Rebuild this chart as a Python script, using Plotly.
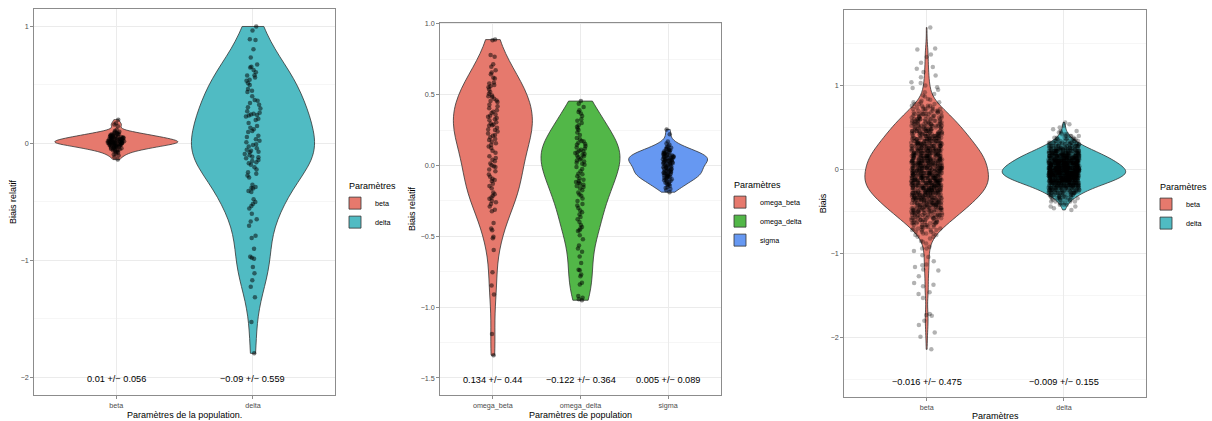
import numpy as np
import plotly.graph_objects as go

# ------------------------------------------------------------------ data
panel1_categories = ["beta", "delta"]
panel2_categories = ["omega_beta", "omega_delta", "sigma"]
panel3_categories = ["beta", "delta"]

beta1_values = [
    -0.138, -0.118, -0.103, -0.095, -0.086, -0.079, -0.072, -0.068, -0.063, -0.058,
    -0.055, -0.051, -0.049, -0.046, -0.044, -0.041, -0.038, -0.036, -0.033, -0.031,
    -0.029, -0.027, -0.025, -0.023, -0.021, -0.019, -0.018, -0.016, -0.014, -0.012,
    -0.011, -0.009, -0.008, -0.006, -0.005, -0.003, -0.002, 0.000, 0.001, 0.002,
    0.004, 0.005, 0.006, 0.007, 0.008, 0.009, 0.011, 0.012, 0.013, 0.014,
    0.016, 0.017, 0.018, 0.019, 0.020, 0.022, 0.023, 0.024, 0.026, 0.027,
    0.029, 0.031, 0.032, 0.033, 0.035, 0.036, 0.038, 0.039, 0.040, 0.042,
    0.044, 0.045, 0.047, 0.049, 0.051, 0.053, 0.055, 0.056, 0.058, 0.060,
    0.062, 0.064, 0.066, 0.068, 0.071, 0.073, 0.076, 0.079, 0.082, 0.085,
    0.088, 0.092, 0.096, 0.101, 0.107, 0.118, 0.148, 0.162, 0.172, 0.203,
]
delta1_values = [
    1.000, 0.966, 0.890, 0.885, 0.806, 0.735, 0.676, 0.656, 0.650, 0.628,
    0.608, 0.583, 0.580, 0.563, 0.544, 0.536, 0.515, 0.500, 0.465, 0.450,
    0.440, 0.403, 0.372, 0.366, 0.346, 0.332, 0.310, 0.299, 0.276, 0.262,
    0.255, 0.248, 0.243, 0.238, 0.230, 0.211, 0.200, 0.176, 0.150, 0.135,
    0.121, 0.107, 0.099, 0.065, 0.056, 0.037, 0.023, 0.010, -0.006, -0.014,
    -0.025, -0.040, -0.054, -0.062, -0.070, -0.076, -0.090, -0.100, -0.113, -0.118,
    -0.127, -0.141, -0.150, -0.160, -0.169, -0.183, -0.203, -0.222, -0.245, -0.259,
    -0.273, -0.290, -0.352, -0.372, -0.380, -0.386, -0.406, -0.414, -0.476, -0.500,
    -0.518, -0.535, -0.555, -0.600, -0.648, -0.668, -0.704, -0.789, -0.808, -0.901,
    -0.969, -0.977, -0.986, -1.056, -1.110, -1.169, -1.225, -1.315, -1.527, -1.794,
]
omega_beta2_values = [
    0.889, 0.884, 0.780, 0.768, 0.715, 0.698, 0.673, 0.657, 0.645, 0.620,
    0.615, 0.587, 0.580, 0.568, 0.560, 0.553, 0.536, 0.520, 0.506, 0.494,
    0.490, 0.483, 0.471, 0.460, 0.455, 0.448, 0.430, 0.418, 0.405, 0.390,
    0.380, 0.371, 0.360, 0.352, 0.345, 0.336, 0.327, 0.320, 0.305, 0.297,
    0.290, 0.285, 0.280, 0.267, 0.255, 0.250, 0.240, 0.227, 0.216, 0.210,
    0.200, 0.188, 0.181, 0.170, 0.158, 0.146, 0.135, 0.123, 0.104, 0.090,
    0.065, 0.053, 0.040, 0.030, 0.015, 0.002, -0.005, -0.010, -0.028, -0.040,
    -0.063, -0.080, -0.093, -0.102, -0.109, -0.128, -0.144, -0.160, -0.190, -0.202,
    -0.213, -0.225, -0.235, -0.248, -0.260, -0.271, -0.290, -0.313, -0.323, -0.406,
    -0.445, -0.457, -0.503, -0.513, -0.596, -0.754, -0.847, -0.910, -1.190, -1.339,
]
omega_delta2_values = [
    0.455, 0.436, 0.413, 0.390, 0.378, 0.368, 0.350, 0.327, 0.316, 0.300,
    0.285, 0.274, 0.262, 0.250, 0.234, 0.216, 0.195, 0.185, 0.174, 0.170,
    0.160, 0.152, 0.146, 0.138, 0.128, 0.120, 0.111, 0.105, 0.100, 0.094,
    0.088, 0.082, 0.077, 0.070, 0.065, 0.058, 0.049, 0.042, 0.035, 0.028,
    0.019, 0.012, 0.005, -0.010, -0.025, -0.040, -0.058, -0.062, -0.075, -0.090,
    -0.100, -0.109, -0.116, -0.122, -0.128, -0.135, -0.144, -0.152, -0.160, -0.174,
    -0.190, -0.205, -0.213, -0.232, -0.250, -0.271, -0.283, -0.300, -0.318, -0.329,
    -0.345, -0.364, -0.380, -0.399, -0.420, -0.434, -0.445, -0.457, -0.462, -0.492,
    -0.520, -0.564, -0.585, -0.608, -0.643, -0.689, -0.735, -0.740, -0.770, -0.782,
    -0.828, -0.840, -0.921, -0.933, -0.944, -0.951,
]
sigma2_values = [
    -0.188, -0.175, -0.166, -0.158, -0.151, -0.143, -0.138, -0.132, -0.127, -0.122,
    -0.118, -0.113, -0.108, -0.104, -0.099, -0.096, -0.092, -0.088, -0.085, -0.081,
    -0.079, -0.076, -0.073, -0.070, -0.067, -0.064, -0.062, -0.059, -0.056, -0.053,
    -0.050, -0.047, -0.044, -0.041, -0.039, -0.036, -0.033, -0.030, -0.027, -0.024,
    -0.021, -0.019, -0.016, -0.013, -0.010, -0.007, -0.004, -0.001, 0.002, 0.005,
    0.008, 0.011, 0.014, 0.017, 0.019, 0.022, 0.024, 0.027, 0.029, 0.031,
    0.034, 0.036, 0.038, 0.041, 0.043, 0.045, 0.047, 0.050, 0.052, 0.054,
    0.056, 0.058, 0.061, 0.063, 0.065, 0.067, 0.070, 0.072, 0.075, 0.077,
    0.080, 0.082, 0.085, 0.088, 0.091, 0.094, 0.097, 0.100, 0.104, 0.108,
    0.112, 0.116, 0.121, 0.126, 0.131, 0.137, 0.146, 0.155, 0.170, 0.221, 0.255,
]

# panel 3: ~1000 replicates each, read as (value, count) in the dense core + individual tail points
beta3_core_values = [
    -0.80, -0.78, -0.76, -0.74, -0.72, -0.70, -0.68, -0.66, -0.64, -0.62,
    -0.60, -0.58, -0.56, -0.54, -0.52, -0.50, -0.48, -0.46, -0.44, -0.42,
    -0.40, -0.38, -0.36, -0.34, -0.32, -0.30, -0.28, -0.26, -0.24, -0.22,
    -0.20, -0.18, -0.16, -0.14, -0.12, -0.10, -0.08, -0.06, -0.04, -0.02,
    0.00,
    0.02, 0.04, 0.06, 0.08, 0.10, 0.12, 0.14, 0.16, 0.18, 0.20,
    0.22, 0.24, 0.26, 0.28, 0.30, 0.32, 0.34, 0.36, 0.38, 0.40,
    0.42, 0.44, 0.46, 0.48, 0.50, 0.52, 0.54, 0.56, 0.58, 0.60,
    0.62, 0.64, 0.66, 0.68, 0.70, 0.72, 0.74, 0.76, 0.78, 0.80,
]
beta3_core_counts = [
    2, 2, 3, 3, 4, 4, 5, 5, 6, 7,
    7, 8, 8, 9, 9, 10, 11, 11, 12, 12,
    13, 13, 14, 14, 15, 15, 16, 16, 17, 17,
    17, 17, 18, 18, 18, 18, 18, 17, 17, 17,
    17,
    17, 17, 17, 17, 17, 17, 16, 16, 16, 15,
    15, 15, 14, 14, 14, 13, 13, 12, 12, 12,
    11, 11, 11, 10, 10, 9, 9, 9, 8, 8,
    7, 7, 6, 6, 5, 5, 4, 4, 3, 3,
]
beta3_tail_values = [
    1.69, 1.44, 1.43, 1.37, 1.34, 1.27, 1.22, 1.20, 1.16, 1.12,
    1.10, 1.04, 1.03, 1.00, 0.98, 0.97, 0.95, 0.92, 0.90, 0.88,
    0.87, 0.84, 0.83, 0.82,
    -0.82, -0.85, -0.86, -0.88, -0.92, -0.94, -0.94, -0.97, -1.02, -1.04,
    -1.09, -1.13, -1.14, -1.16, -1.19, -1.20, -1.27, -1.35, -1.37, -1.39,
    -1.46, -1.48, -1.53, -1.72, -1.73, -1.74, -1.80, -1.85, -1.94, -1.99, -2.14,
]
delta3_core_values = [
    -0.48, -0.46, -0.44, -0.42, -0.40, -0.38, -0.36, -0.34, -0.32, -0.30,
    -0.28, -0.26, -0.24, -0.22, -0.20, -0.18, -0.16, -0.14, -0.12, -0.10,
    -0.08, -0.06, -0.04, -0.02, 0.00, 0.02, 0.04, 0.06, 0.08, 0.10,
    0.12, 0.14, 0.16, 0.18, 0.20, 0.22, 0.24, 0.26, 0.28, 0.30,
    0.32, 0.34, 0.36, 0.38, 0.40, 0.42, 0.44, 0.46, 0.48, 0.50,
    0.52, 0.54, 0.56,
]
delta3_core_counts = [
    1, 1, 2, 3, 3, 4, 6, 7, 9, 11,
    13, 15, 18, 21, 24, 27, 31, 34, 37, 40,
    42, 44, 45, 45, 44, 43, 41, 40, 38, 36,
    34, 32, 30, 27, 25, 22, 19, 17, 14, 12,
    10, 8, 6, 5, 4, 3, 2, 2, 1, 1,
    1, 1, 1,
]

panel1_labels = ["0.01 +/\u2212 0.056", "\u22120.09 +/\u2212 0.559"]
panel2_labels = ["0.134 +/\u2212 0.44", "\u22120.122 +/\u2212 0.364", "0.005 +/\u2212 0.089"]
panel3_labels = ["\u22120.016 +/\u2212 0.475", "\u22120.009 +/\u2212 0.155"]
label_levels = [-2.0, -1.5, -2.5]

# ------------------------------------------------------------------ style
FONT = "Liberation Sans, Arial, Helvetica, sans-serif"
RED, TEAL = "#E6796D", "#50BBC3"
GREEN, BLUE = "#52B748", "#6698F2"
OUTLINE = "#333333"
BORDER = "#8C8C8C"
W, H = 1212, 421


def nrd0(v):
    v = np.asarray(v, float)
    q75, q25 = np.percentile(v, [75, 25])
    lo = min(v.std(ddof=1), (q75 - q25) / 1.34)
    return 0.9 * lo * len(v) ** -0.2


# panel 3 full samples (for the densities) and the split used only for jittering the points
beta3_dense = np.repeat(beta3_core_values, beta3_core_counts)
beta3_sparse = np.asarray(beta3_tail_values, float)
beta3_values = np.concatenate([beta3_dense, beta3_sparse])
d3v = np.asarray(delta3_core_values, float)
d3c = np.asarray(delta3_core_counts, int)
delta3_dense = np.repeat(d3v[d3c >= 4], d3c[d3c >= 4])
delta3_sparse = np.repeat(d3v[d3c < 4], d3c[d3c < 4])
delta3_values = np.concatenate([delta3_dense, delta3_sparse])

panels = [
    dict(cats=panel1_categories, groups=[beta1_values, delta1_values], fills=[RED, TEAL],
         labels=panel1_labels, xa="x", ya="y", legend="legend", jitter=0.14,
         pt="rgba(0,0,0,0.5)", split=None),
    dict(cats=panel2_categories, groups=[omega_beta2_values, omega_delta2_values, sigma2_values],
         fills=[RED, GREEN, BLUE], labels=panel2_labels, xa="x2", ya="y2", legend="legend2",
         jitter=0.14, pt="rgba(0,0,0,0.5)", split=None),
    dict(cats=panel3_categories, groups=[beta3_values, delta3_values], fills=[RED, TEAL],
         labels=panel3_labels, xa="x3", ya="y3", legend="legend3", jitter=0.25,
         pt="rgba(0,0,0,0.3)",
         split=[(beta3_dense, beta3_sparse), (delta3_dense, delta3_sparse)]),
]

fig = go.Figure()
annotations = []
for p, lvl in zip(panels, label_levels):
    for i, (cat, vals, fill) in enumerate(zip(p["cats"], p["groups"], p["fills"])):
        own_points = p["split"] is None
        fig.add_trace(go.Violin(
            x0=i + 1, y=list(vals), name=cat, legend=p["legend"],
            xaxis=p["xa"], yaxis=p["ya"], fillcolor=fill,
            line=dict(color=OUTLINE, width=0.8), opacity=1,
            width=0.9, scalemode="width", spanmode="hard", bandwidth=nrd0(vals),
            points="all" if own_points else False, pointpos=0, jitter=p["jitter"],
            marker=dict(size=4.5, color=p["pt"], line=dict(width=0)),
            box=dict(visible=False), meanline=dict(visible=False),
            hoverinfo="y",
        ))
        if not own_points:
            for part, jit in zip(p["split"][i], (p["jitter"], 0.27)):
                fig.add_trace(go.Violin(
                    x0=i + 1, y=list(part), name=cat, showlegend=False,
                    xaxis=p["xa"], yaxis=p["ya"], fillcolor="rgba(0,0,0,0)",
                    line=dict(color="rgba(0,0,0,0)", width=0),
                    width=0.9, scalemode="width", spanmode="hard",
                    points="all", pointpos=0, jitter=jit,
                    marker=dict(size=4.5, color=p["pt"], line=dict(width=0)),
                    box=dict(visible=False), meanline=dict(visible=False),
                    hoverinfo="y",
                ))
        annotations.append(dict(
            x=i + 1, y=lvl, xref=p["xa"], yref=p["ya"], text=p["labels"][i],
            showarrow=False, font=dict(size=9.2, color="black", family=FONT),
            xanchor="center", yanchor="middle", yshift=-2,
        ))


def xaxis(dom, cats, title, anchor):
    return dict(
        domain=[dom[0] / W, dom[1] / W], anchor=anchor, type="linear",
        range=[0.4, len(cats) + 0.6], tickmode="array",
        tickvals=list(range(1, len(cats) + 1)), ticktext=cats,
        showline=True, mirror=True, linecolor=BORDER, linewidth=1,
        ticks="outside", ticklen=3, tickcolor=BORDER, tickwidth=1,
        tickfont=dict(size=7.2, color="#4D4D4D", family=FONT),
        showgrid=True, gridcolor="#EBEBEB", gridwidth=1, zeroline=False,
        title=dict(text=title, font=dict(size=9, color="black", family=FONT), standoff=3),
    )


def yaxis(top, bottom, rng, dtick, fmt, title, anchor, standoff):
    return dict(
        domain=[(H - bottom) / H, (H - top) / H], anchor=anchor, type="linear",
        range=rng, tick0=0, dtick=dtick, tickformat=fmt,
        showline=True, mirror=True, linecolor=BORDER, linewidth=1,
        ticks="outside", ticklen=3, tickcolor=BORDER, tickwidth=1,
        tickfont=dict(size=7.2, color="#4D4D4D", family=FONT),
        showgrid=True, gridcolor="#EBEBEB", gridwidth=1, zeroline=False,
        minor=dict(tick0=0, dtick=dtick / 2, showgrid=True, gridcolor="#F6F6F6",
                   gridwidth=0.7, ticks=""),
        title=dict(text=title, font=dict(size=9, color="black", family=FONT), standoff=standoff),
    )


def legend(xpx, ypx):
    return dict(
        x=xpx / W, y=1 - ypx / H, xanchor="left", yanchor="top",
        title=dict(text="Paramètres", font=dict(size=9, color="black", family=FONT)),
        font=dict(size=7.2, color="black", family=FONT),
        bgcolor="rgba(0,0,0,0)", borderwidth=0, tracegroupgap=0,
        indentation=-12,
    )


fig.update_layout(
    width=W, height=H, margin=dict(l=0, r=0, t=0, b=0),
    paper_bgcolor="white", plot_bgcolor="white",
    font=dict(family=FONT, color="black"),
    violinmode="overlay", showlegend=True,
    xaxis=xaxis((34.3, 335.0), panel1_categories, "Paramètres de la population.", "y"),
    yaxis=yaxis(6.0, 396.7, [-2.15, 1.15], 1, "", "Biais relatif", "x", 2),
    xaxis2=xaxis((440.3, 720.7), panel2_categories, "Paramètres de population", "y2"),
    yaxis2=yaxis(20.0, 396.7, [-1.62, 1.008], 0.5, ".1f", "Biais relatif", "x2", 3),
    xaxis3=xaxis((844.3, 1146.3), panel3_categories, "Paramètres", "y3"),
    yaxis3=yaxis(7.0, 399.0, [-2.71, 1.90], 1, "", "Biais", "x3", 2),
    legend=legend(347, 176),
    legend2=legend(732, 175),
    legend3=legend(1158, 177),
    annotations=annotations,
)

fig.write_html("out.html")
